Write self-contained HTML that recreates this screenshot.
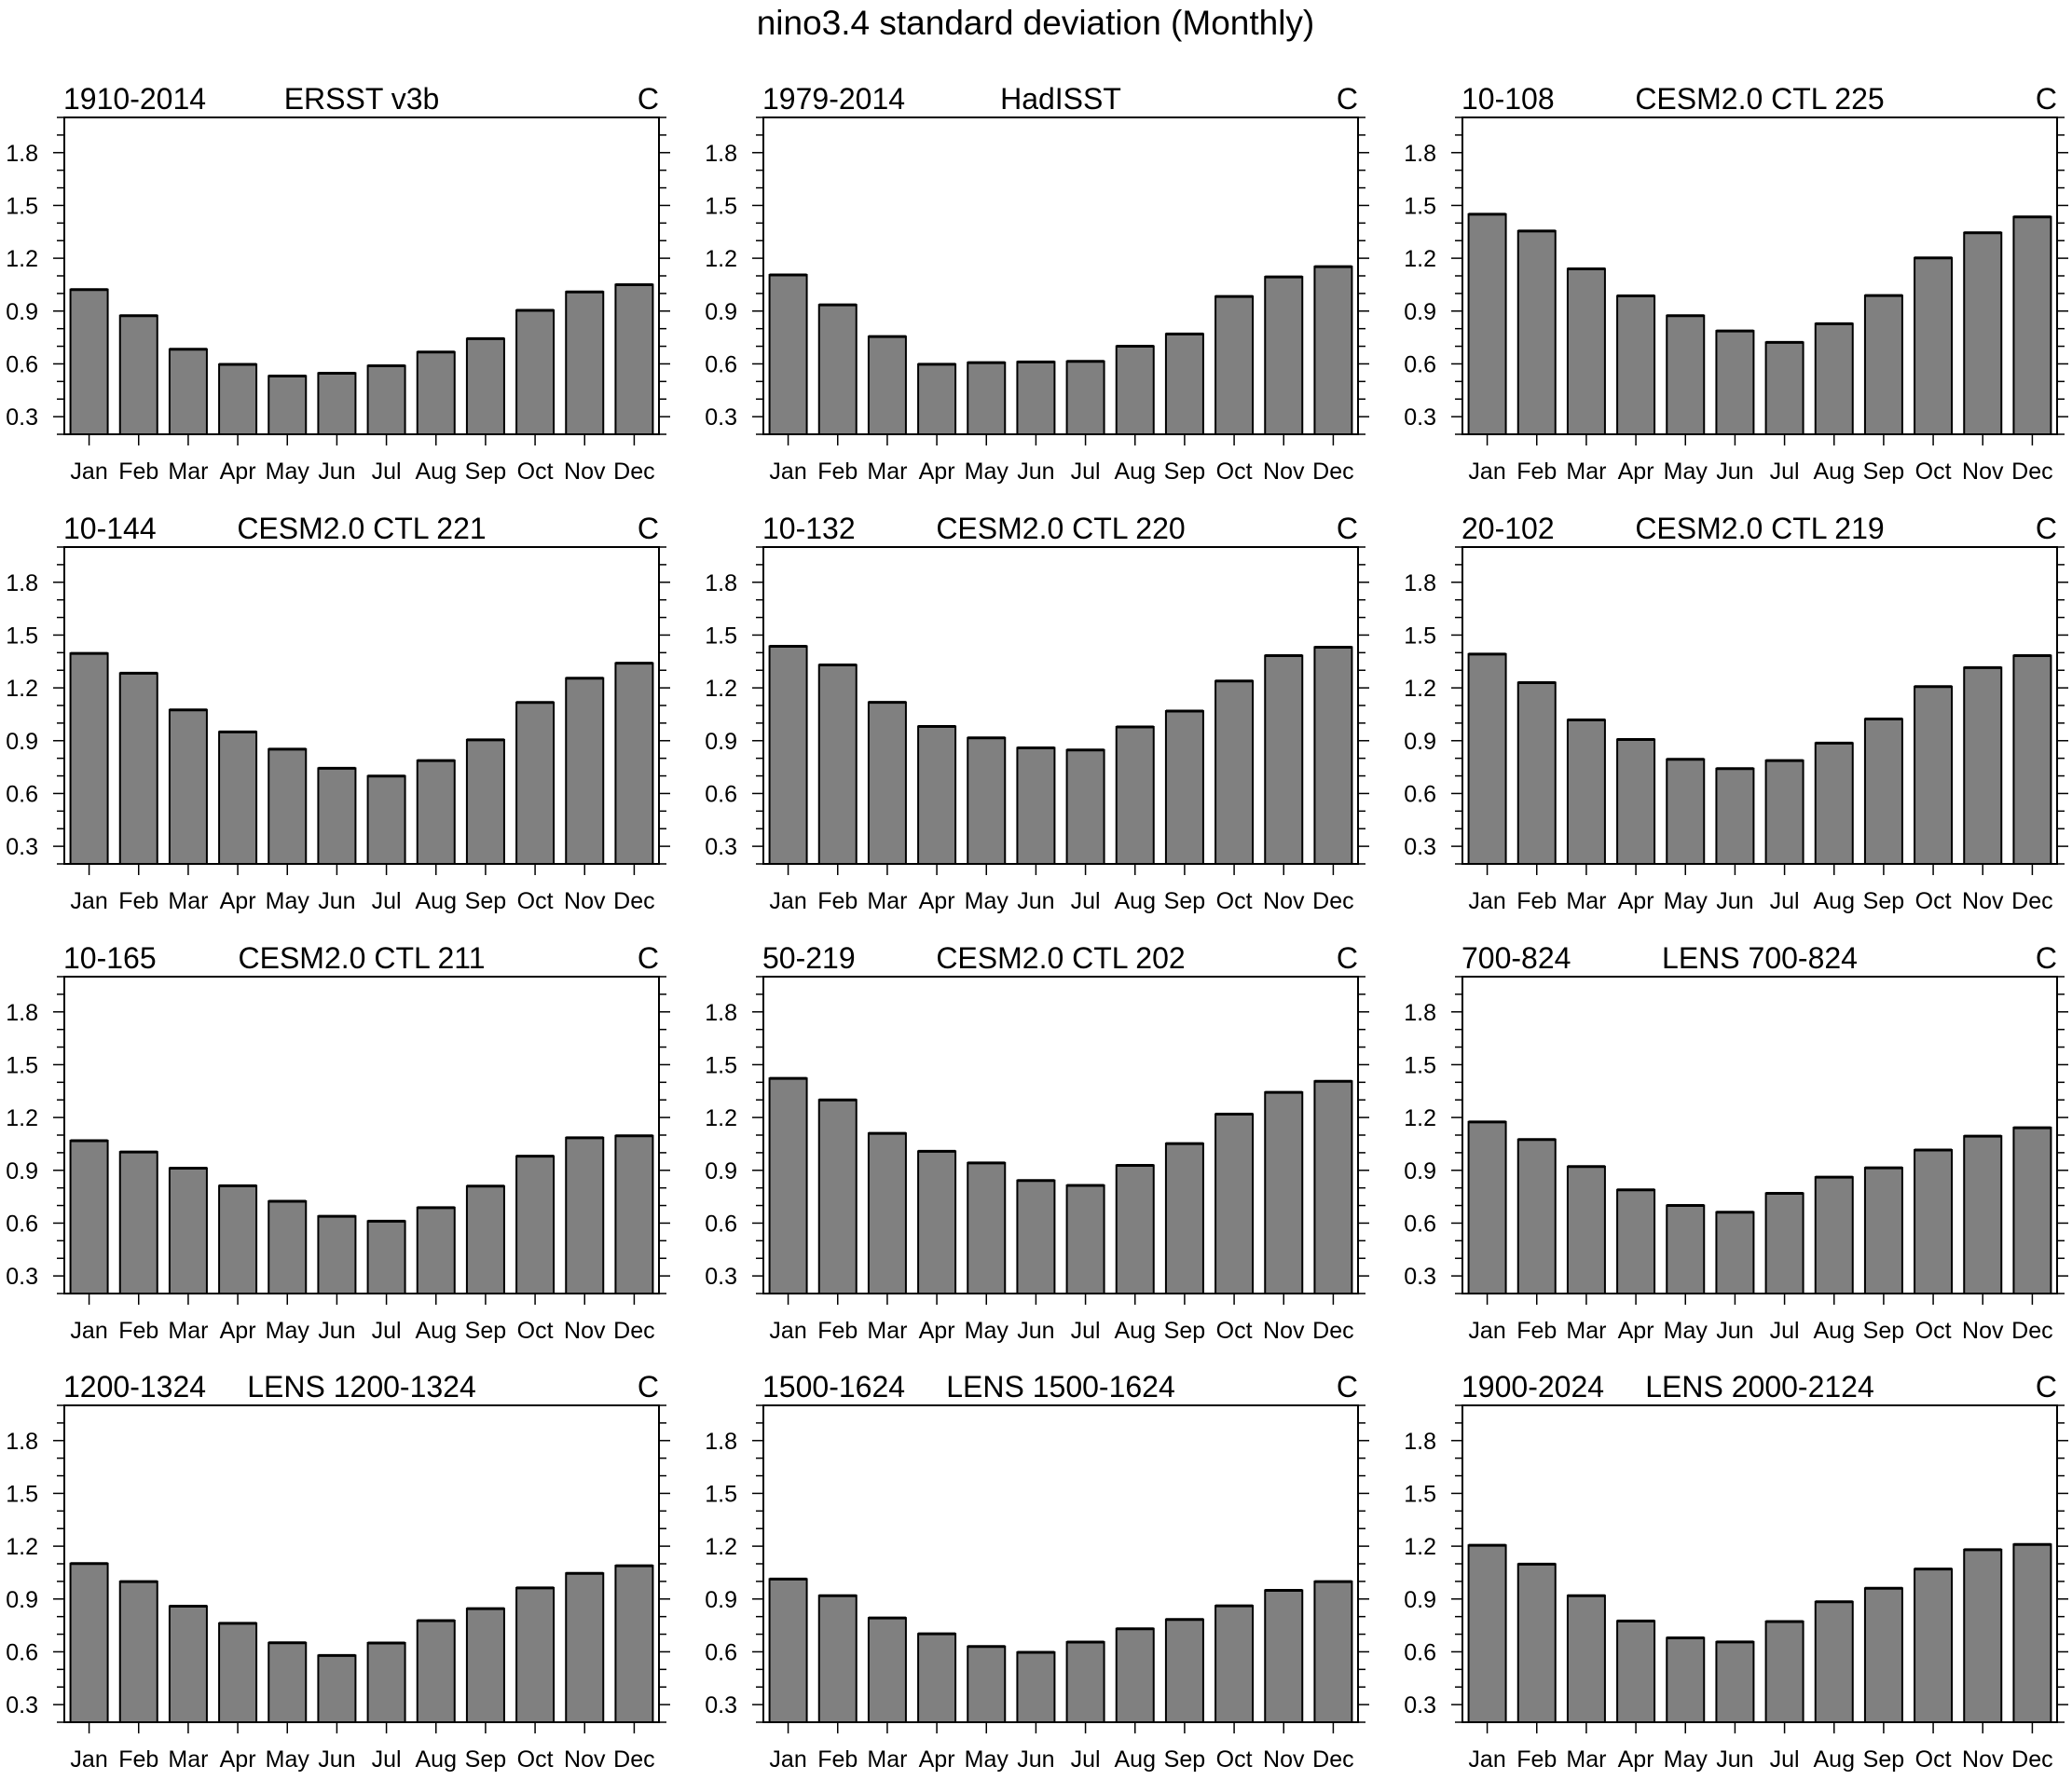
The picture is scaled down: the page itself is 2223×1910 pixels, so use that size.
<!DOCTYPE html>
<html><head><meta charset="utf-8"><style>
html,body{margin:0;padding:0;background:#fff;}
svg{display:block;font-family:"Liberation Sans",Arial,sans-serif;}
</style></head><body>
<svg id="chart" width="2223" height="1910" viewBox="0 0 2223 1910" xmlns="http://www.w3.org/2000/svg">
<text x="1111" y="37" font-size="37" text-anchor="middle">nino3.4 standard deviation (Monthly)</text>
</svg>
<script>
const months = ["Jan","Feb","Mar","Apr","May","Jun","Jul","Aug","Sep","Oct","Nov","Dec"];
const yTicks = [0.3,0.6,0.9,1.2,1.5,1.8];
const yTickLabels = ["0.3","0.6","0.9","1.2","1.5","1.8"];
const leftTitles = ["1910-2014","1979-2014","10-108","10-144","10-132","20-102","10-165","50-219","700-824","1200-1324","1500-1624","1900-2024"];
const centerTitles = ["ERSST v3b","HadISST","CESM2.0 CTL 225","CESM2.0 CTL 221","CESM2.0 CTL 220","CESM2.0 CTL 219","CESM2.0 CTL 211","CESM2.0 CTL 202","LENS 700-824","LENS 1200-1324","LENS 1500-1624","LENS 2000-2124"];
const ersst = [1.022,0.874,0.683,0.597,0.531,0.547,0.589,0.667,0.743,0.904,1.009,1.05];
const hadisst = [1.105,0.935,0.755,0.598,0.607,0.611,0.614,0.70,0.77,0.983,1.094,1.152];
const ctl225 = [1.45,1.355,1.14,0.986,0.874,0.787,0.722,0.828,0.988,1.202,1.345,1.435];
const ctl221 = [1.396,1.283,1.075,0.95,0.852,0.743,0.699,0.787,0.905,1.117,1.255,1.34];
const ctl220 = [1.436,1.33,1.118,0.981,0.916,0.859,0.847,0.978,1.068,1.239,1.383,1.431];
const ctl219 = [1.392,1.23,1.018,0.907,0.794,0.741,0.787,0.886,1.023,1.207,1.315,1.383];
const ctl211 = [1.068,1.004,0.912,0.812,0.724,0.639,0.611,0.688,0.81,0.98,1.085,1.096];
const ctl202 = [1.422,1.30,1.11,1.008,0.942,0.842,0.814,0.928,1.052,1.219,1.343,1.406];
const lens700 = [1.175,1.075,0.921,0.789,0.70,0.662,0.769,0.861,0.914,1.015,1.094,1.142];
const lens1200 = [1.101,0.999,0.859,0.762,0.651,0.579,0.65,0.777,0.845,0.963,1.046,1.089];
const lens1500 = [1.013,0.919,0.792,0.702,0.63,0.597,0.655,0.731,0.784,0.861,0.949,0.999];
const lens2000 = [1.205,1.098,0.919,0.775,0.679,0.656,0.772,0.884,0.961,1.07,1.18,1.21];
const series = [ersst,hadisst,ctl225,ctl221,ctl220,ctl219,ctl211,ctl202,lens700,lens1200,lens1500,lens2000];

const NS = "http://www.w3.org/2000/svg";
const svg = document.getElementById("chart");
const colLeft = [69, 819, 1569];
const rowTop = [126, 587, 1048, 1508];
const W = 638, H = 340, YMIN = 0.2, YMAX = 2.0;

function mk(tag, attrs, parent) {
  const e = document.createElementNS(NS, tag);
  for (const k in attrs) e.setAttribute(k, attrs[k]);
  parent.appendChild(e);
  return e;
}

series.forEach(function(vals, p) {
  const x0 = colLeft[p % 3], y0 = rowTop[Math.floor(p / 3)];
  const yS = v => y0 + H - (v - YMIN) / (YMAX - YMIN) * H;
  const xS = i => x0 + (i + 0.5) / 12 * W;
  const g = mk("g", {}, svg);
  
  

  const t1 = mk("text", {x: x0 - 1, y: y0 - 9, "font-size": 32}, g);
  t1.textContent = leftTitles[p];
  
  
  const t2 = mk("text", {x: x0 + W / 2, y: y0 - 9, "font-size": 32, "text-anchor": "middle"}, g);
  t2.textContent = centerTitles[p];
  
  
  const t3 = mk("text", {x: x0 + W, y: y0 - 9, "font-size": 32, "text-anchor": "end"}, g);
  t3.textContent = "C";
  
  

  for (let k = 2; k <= 20; k++) {
    const v = k / 10;
    const y = yS(v);
    const major = yTicks.some(t => Math.abs(t - v) < 1e-6);
    const len = major ? 12 : 8;
    const tl = mk("line", {x1: x0 - len, x2: x0, y1: y, y2: y, stroke: "#000", "stroke-width": 1.5}, g);
    
    
    const tr = mk("line", {x1: x0 + W, x2: x0 + W + len, y1: y, y2: y, stroke: "#000", "stroke-width": 1.5}, g);
    
    
  }
  yTicks.forEach(function(v, i) {
    const lbl = mk("text", {x: x0 - 28, y: yS(v) + 9, "font-size": 25, "text-anchor": "end"}, g);
    lbl.textContent = yTickLabels[i];
    
    
  });

  vals.forEach(function(v, i) {
    const cx = xS(i), bw = 40;
    const bar = mk("rect", {x: cx - bw / 2, y: yS(v), width: bw, height: y0 + H - yS(v), fill: "#808080", stroke: "#000", "stroke-width": 2}, g);
    
    
    const tp = mk("line", {x1: cx - bw / 2, x2: cx + bw / 2, y1: yS(v), y2: yS(v), stroke: "#000", "stroke-width": 3}, g);
    
    
    const xt = mk("line", {x1: cx, x2: cx, y1: y0 + H, y2: y0 + H + 12, stroke: "#000", "stroke-width": 1.5}, g);
    
    
    const xl = mk("text", {x: cx, y: y0 + H + 48, "font-size": 25, "text-anchor": "middle"}, g);
    xl.textContent = months[i];
    
    
  });

  const frame = mk("rect", {x: x0, y: y0, width: W, height: H, fill: "none", stroke: "#000", "stroke-width": 2}, g);
  
  
});
</script>
</body></html>
